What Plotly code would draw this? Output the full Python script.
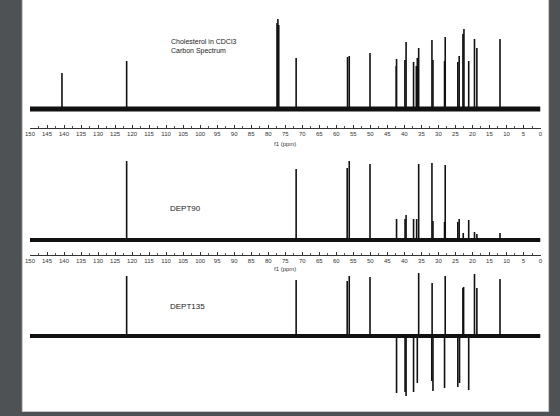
import plotly.graph_objects as go

# ---- data (ppm positions and relative intensities) ----
c13_ppm = [140.6, 121.6, 77.42, 77.16, 76.91, 71.8, 56.7, 56.2, 50.1, 42.4, 42.3,
           39.85, 39.5, 37.3, 36.5, 36.2, 35.8, 31.9, 31.6, 28.2, 28.0, 24.3, 23.9,
           22.8, 22.5, 21.1, 19.4, 18.7, 11.9]
c13_int = [36, 48, 86, 90, 84, 51, 52, 53, 56, 43, 50,
           49, 67, 47, 43, 51, 61, 69, 49, 48, 72, 47, 53,
           75, 80, 48, 70, 61, 70]

dept90_ppm = [121.6, 71.8, 56.8, 56.2, 50.1, 42.3, 39.8, 39.5, 37.3, 36.4, 35.8,
              31.9, 31.6, 28.2, 28.0, 24.3, 23.9, 22.7, 21.1, 19.4, 18.7, 11.9]
dept90_int = [79, 71, 72, 79, 76, 21, 21, 25, 21, 21, 76,
              77, 19, 18, 75, 18, 21, 7, 20, 8, 6, 7]

dept135_ppm = [121.6, 71.8, 56.8, 56.2, 50.1, 42.3, 39.8, 39.5, 37.3, 36.2, 35.8,
               31.95, 31.85, 31.6, 28.2, 28.0, 24.3, 23.8, 22.8, 22.6, 21.1, 19.4,
               18.7, 11.9]
dept135_int = [60, 56, 55, 60, 59, -57, -56, -60, -56, -47, 63,
               -45, 53, -55, -52, 60, -51, -47, 48, 49, -54, 62,
               48, 57]

ppm_range = [150, 0]
tick_vals = list(range(150, -1, -5))
tick_text = [str(v) for v in tick_vals]

labels = ["Cholesterol in CDCl3<br>Carbon Spectrum", "DEPT90", "DEPT135"]

W, H = 560, 416


def px(x):
    return x / W


def py(y):
    return 1 - y / H


def sticks(ppm, inten):
    xs, ys = [], []
    for p, h in zip(ppm, inten):
        xs += [p, p, None]
        ys += [0, h, None]
    return xs, ys


fig = go.Figure()

spectra = [(c13_ppm, c13_int, 5), (dept90_ppm, dept90_int, 4), (dept135_ppm, dept135_int, 4)]
for i, (pp, ii, bw) in enumerate(spectra):
    sfx = "" if i == 0 else str(i + 1)
    fig.add_trace(go.Scatter(x=ppm_range, y=[0, 0], mode="lines",
                             line=dict(color="#111111", width=bw),
                             xaxis="x" + sfx, yaxis="y" + sfx, hoverinfo="skip",
                             showlegend=False))
    xs, ys = sticks(pp, ii)
    fig.add_trace(go.Scatter(x=xs, y=ys, mode="lines",
                             line=dict(color="#111111", width=1.6),
                             xaxis="x" + sfx, yaxis="y" + sfx, showlegend=False))

xdom = [px(25.3), px(542.3)]
font_fam = "Liberation Sans Narrow, Liberation Sans, Arial, sans-serif"


def xaxis_cfg(anchor, visible=True):
    return dict(domain=xdom, range=ppm_range, anchor=anchor, visible=visible,
                showline=True, linecolor="#333333", linewidth=1,
                ticks="inside", ticklen=3, tickcolor="#333333", tickwidth=1,
                tickvals=tick_vals, ticktext=tick_text,
                tickfont=dict(family=font_fam, size=6, color="#333333"),
                minor=dict(dtick=2.5, tick0=0, ticks="inside", ticklen=2,
                           tickcolor="#555555"),
                showgrid=False, zeroline=False, fixedrange=True)


def yaxis_cfg(top, bottom, base, anchor):
    return dict(domain=[py(bottom), py(top)], range=[-(bottom - base), base - top],
                visible=False, anchor=anchor, fixedrange=True)


fig.update_layout(
    width=W, height=H,
    margin=dict(l=0, r=0, t=0, b=0),
    paper_bgcolor="#4e5255",
    plot_bgcolor="rgba(0,0,0,0)",
    xaxis=xaxis_cfg("y"),
    xaxis2=xaxis_cfg("y2"),
    xaxis3=xaxis_cfg("y3", visible=False),
    yaxis=yaxis_cfg(10, 128, 109, "x"),
    yaxis2=yaxis_cfg(140, 255, 240, "x2"),
    yaxis3=yaxis_cfg(262, 410, 336, "x3"),
    shapes=[dict(type="rect", xref="paper", yref="paper",
                 x0=px(17.5), x1=px(550.5), y0=py(411.5), y1=1.01,
                 fillcolor="white", line=dict(color="#c8c8c8", width=1),
                 layer="below")],
    annotations=[
        dict(text=labels[0], x=px(166), y=py(46.5), xref="paper", yref="paper",
             xanchor="left", yanchor="middle", align="left", showarrow=False,
             font=dict(family=font_fam, size=7, color="#222222")),
        dict(text=labels[1], x=px(165.5), y=py(208.3), xref="paper", yref="paper",
             xanchor="left", yanchor="middle", showarrow=False,
             font=dict(family=font_fam, size=8, color="#222222")),
        dict(text=labels[2], x=px(165.5), y=py(306.7), xref="paper", yref="paper",
             xanchor="left", yanchor="middle", showarrow=False,
             font=dict(family=font_fam, size=8, color="#222222")),
        dict(text="f1 (ppm)", x=px(283.7), y=py(144.5), xref="paper", yref="paper",
             xanchor="center", yanchor="middle", showarrow=False,
             font=dict(family=font_fam, size=6, color="#333333")),
        dict(text="f1 (ppm)", x=px(283.7), y=py(269), xref="paper", yref="paper",
             xanchor="center", yanchor="middle", showarrow=False,
             font=dict(family=font_fam, size=6, color="#333333")),
    ],
)

fig.write_html("out.html")
